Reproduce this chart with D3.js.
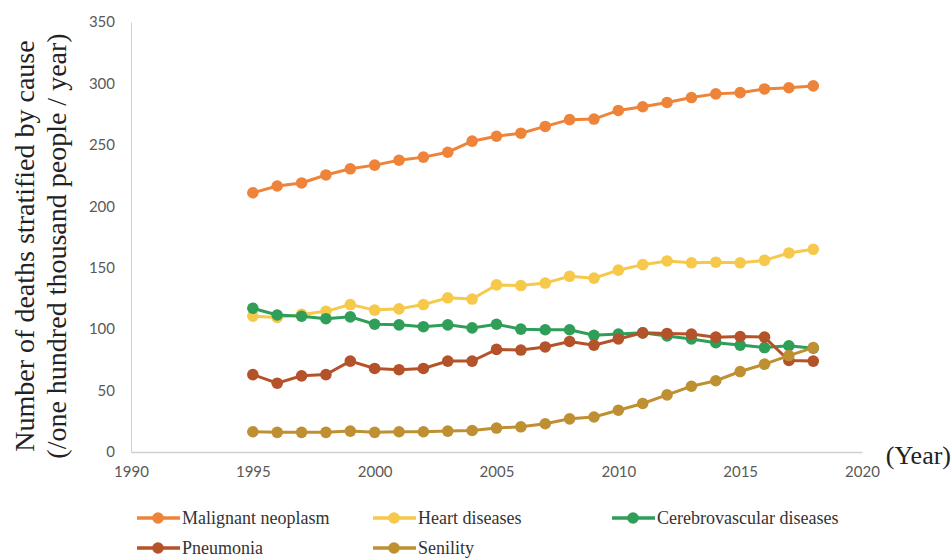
<!DOCTYPE html>
<html lang="en">
<head>
<meta charset="utf-8">
<title>Deaths stratified by cause</title>
<script src="https://cdn.jsdelivr.net/npm/d3@7/dist/d3.min.js"></script>
<style>
  body { margin: 0; background: #fff; }
  .tick text { font-family: Lato, "Open Sans", sans-serif; font-size: 15px; fill: #595959; }
</style>
</head>
<body>
<div id="chart"></div>
<script>
// years on the x axis
var years = d3.range(1995, 2019);
var xTicks = [1990, 1995, 2000, 2005, 2010, 2015, 2020];
var yTicks = [0, 50, 100, 150, 200, 250, 300, 350];

// values (per 100,000 people per year)
var malignant = [211, 216.5, 219, 225.5, 230.5, 233.5, 237.5, 240, 244, 253, 257, 259.5, 265, 270.5, 271, 278, 281, 284.5, 288.5, 291.5, 292.5, 295.5, 296.5, 298];
var heart = [110.5, 109.5, 112, 114.5, 120, 115.5, 116.5, 120, 125.5, 124.5, 136, 135.5, 137.5, 143, 141.5, 148, 152.5, 155.5, 154, 154.5, 154, 156, 162, 165];
var cerebro = [117, 111.5, 110.5, 108.5, 110, 104, 103.5, 102, 103.5, 101, 104, 100, 99.5, 99.5, 95, 96, 97, 94.5, 92, 89, 87, 85, 86.5, 84.5];
var pneumonia = [63, 56, 62, 63, 74, 68, 67, 68, 74, 74, 83.5, 83, 85.5, 90, 87, 92, 97, 96.5, 96, 93.5, 94, 93.5, 74.5, 74];
var senility = [16.5, 16, 16, 16, 17, 16, 16.5, 16.5, 17, 17.5, 19.5, 20.5, 23, 27, 28.5, 34, 39.5, 46.5, 53.5, 58, 65.5, 71.5, 78.5, 85];

var seriesNames = ["Malignant neoplasm", "Heart diseases", "Cerebrovascular diseases", "Pneumonia", "Senility"];
var seriesColors = ["#ed843a", "#f6c94a", "#2f9e58", "#b4522a", "#bf9032"];
var seriesValues = [malignant, heart, cerebro, pneumonia, senility];

var serif = "'Liberation Serif', 'DejaVu Serif', serif";

var W = 952, H = 559;
var svg = d3.select("#chart").append("svg")
  .attr("width", W).attr("height", H);

var x = d3.scaleLinear().domain([1990, 2020]).range([131, 862]);
var y = d3.scaleLinear().domain([0, 350]).range([452, 22]);

// y axis
var yAxis = svg.append("g")
  .attr("transform", "translate(" + x(1990) + ",0)")
  .call(d3.axisLeft(y).tickValues(yTicks).tickSize(0).tickPadding(16));
yAxis.select(".domain").attr("stroke", "#d0d0d0");

// x axis
var xAxis = svg.append("g")
  .attr("transform", "translate(0," + y(0) + ")")
  .call(d3.axisBottom(x).tickValues(xTicks).tickFormat(d3.format("d")).tickSize(0).tickPadding(14));
xAxis.select(".domain").attr("stroke", "#d0d0d0").attr("stroke-width", 1.3);

// axis titles
svg.append("text")
  .attr("transform", "translate(34,246) rotate(-90)")
  .attr("text-anchor", "middle")
  .style("font-family", serif).style("font-size", "28px").style("fill", "#222")
  .text("Number of deaths stratified by cause");
svg.append("text")
  .attr("transform", "translate(66,246) rotate(-90)")
  .attr("text-anchor", "middle")
  .style("font-family", serif).style("font-size", "28px").style("fill", "#222")
  .text("(/one hundred thousand people / year)");
svg.append("text")
  .attr("x", 951).attr("y", 464)
  .attr("text-anchor", "end")
  .style("font-family", serif).style("font-size", "26px").style("fill", "#222")
  .text("(Year)");

var line = d3.line()
  .x(function(d, i) { return x(years[i]); })
  .y(function(d) { return y(d); });

// draw each series: line then markers
seriesValues.forEach(function(vals, k) {
  var g = svg.append("g");
  g.append("path")
    .attr("d", line(vals))
    .attr("fill", "none")
    .attr("stroke", seriesColors[k])
    .attr("stroke-width", 3);
  g.selectAll("circle").data(vals).enter().append("circle")
    .attr("cx", function(d, i) { return x(years[i]); })
    .attr("cy", function(d) { return y(d); })
    .attr("r", 5.8)
    .attr("fill", seriesColors[k]);
});

// legend
var legendPos = [[137, 518], [373, 518], [612, 518], [137, 548], [373, 548]];
seriesNames.forEach(function(name, k) {
  var lx = legendPos[k][0], ly = legendPos[k][1];
  var g = svg.append("g");
  g.append("line")
    .attr("x1", lx).attr("x2", lx + 43)
    .attr("y1", ly).attr("y2", ly)
    .attr("stroke", seriesColors[k]).attr("stroke-width", 3.5);
  g.append("circle")
    .attr("cx", lx + 21).attr("cy", ly).attr("r", 5.8)
    .attr("fill", seriesColors[k]);
  g.append("text")
    .attr("x", lx + 45).attr("y", ly + 6)
    .style("font-family", serif).style("font-size", "18px").style("fill", "#333")
    .text(name);
});
</script>
</body>
</html>
